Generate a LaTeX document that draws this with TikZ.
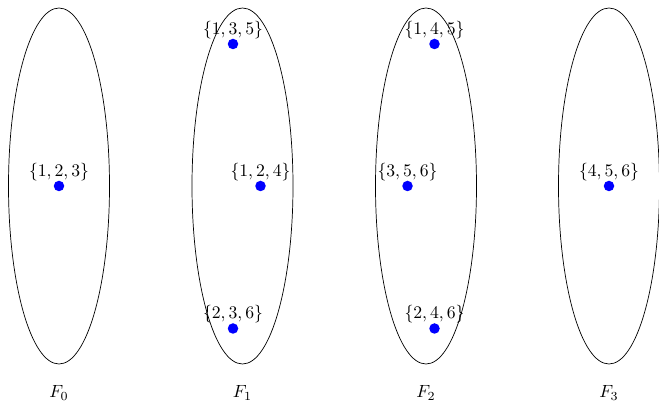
\documentclass[tikz,border=0pt]{standalone}
\begin{document}
\begin{tikzpicture}[x=0.5654pt,y=-0.5654pt,
  fam/.style={draw=black,line width=0.4pt},
  pt/.style={circle,fill=blue,inner sep=0pt,minimum size=10.5*0.5654pt},
  lab/.style={inner sep=0pt,anchor=center},
  flab/.style={inner sep=0pt,anchor=center}]
\clip (0,0) rectangle (659,402);
\useasboundingbox (0,0) rectangle (659,402);
% families
\draw[fam] (59,186) ellipse [x radius=50.5, y radius=178];
\draw[fam] (242.5,186) ellipse [x radius=50.5, y radius=178];
\draw[fam] (426,186) ellipse [x radius=50.5, y radius=178];
\draw[fam] (609,186) ellipse [x radius=50.5, y radius=178];
% points
\node[pt] (a) at (59,186) {};
\node[pt] (b1) at (233,44) {};
\node[pt] (b2) at (260.5,186) {};
\node[pt] (b3) at (233,328.5) {};
\node[pt] (c1) at (434.5,44) {};
\node[pt] (c2) at (407.5,186) {};
\node[pt] (c3) at (434.5,328.5) {};
\node[pt] (d) at (609,186) {};
% labels
\node[lab] (la) at (59,172) {$\{1,2,3\}$};
\node[lab] (lb1) at (233,30) {$\{1,3,5\}$};
\node[lab] (lb2) at (260.5,172) {$\{1,2,4\}$};
\node[lab] (lb3) at (233,314.5) {$\{2,3,6\}$};
\node[lab] (lc1) at (434.5,30) {$\{1,4,5\}$};
\node[lab] (lc2) at (407.5,172) {$\{3,5,6\}$};
\node[lab] (lc3) at (434.5,314.5) {$\{2,4,6\}$};
\node[lab] (ld) at (609,172) {$\{4,5,6\}$};
% family names
\node[flab] (f0) at (59,393) {$F_0$};
\node[flab] (f1) at (242.5,393) {$F_1$};
\node[flab] (f2) at (426,393) {$F_2$};
\node[flab] (f3) at (609,393) {$F_3$};
\end{tikzpicture}
\end{document}
